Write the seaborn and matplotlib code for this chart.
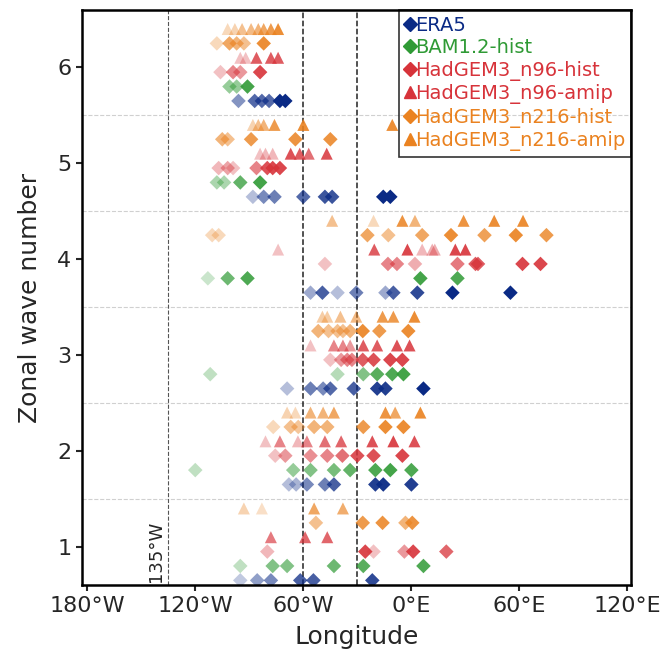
import matplotlib
matplotlib.use("Agg")
from matplotlib import pyplot as plt
from matplotlib.lines import Line2D
import seaborn as sns
import pandas as pd

sns.set_style("ticks")
plt.rcParams['font.family'] = ['DejaVu Sans']

# longitudes (deg, east positive) of each member's peak, per zonal wave number 1..6
ERA5_LON = [[-95, -85.6, -78, -61.7, -54.4, -21.7],
            [-68, -64, -58, -48, -43, -20, -15.6, 0],
            [-69, -56, -49, -45, -32, -19, -14.4, 6.7],
            [-56, -49.4, -41, -30.6, -14.4, -10, 3.3, 22.8, 55],
            [-88, -82, -76, -60, -48, -44, -15.6, -11.7],
            [-96, -87, -83, -79, -73, -70]]
ERA5_ALPHA = [[0.25, 0.45, 0.55, 0.75, 0.75, 0.85],
              [0.3, 0.35, 0.55, 0.6, 0.75, 0.9, 0.95, 0.9],
              [0.3, 0.6, 0.55, 0.7, 0.75, 0.9, 0.9, 1.0],
              [0.4, 0.75, 0.3, 0.6, 0.4, 0.75, 0.85, 1.0, 1.0],
              [0.3, 0.55, 0.6, 0.7, 0.8, 0.8, 1.0, 1.0],
              [0.5, 0.7, 0.7, 0.7, 1.0, 1.0]]

BAM_LON = [[-95, -77, -69, -43, -26.7, 6.7],
           [-120, -65.6, -56, -43, -34, -20, -11.7, 0],
           [-111.7, -41, -26.7, -19, -10.6, -4.4],
           [-113, -102, -91, 5, 25.6],
           [-108, -104, -95, -84],
           [-101, -97, -91]]
BAM_ALPHA = [[0.3, 0.6, 0.6, 0.7, 0.8, 0.85],
             [0.3, 0.5, 0.6, 0.65, 0.75, 0.85, 0.9, 0.85],
             [0.3, 0.35, 0.6, 0.8, 0.85, 0.9],
             [0.25, 0.7, 0.85, 0.9, 0.85],
             [0.4, 0.4, 0.75, 0.9],
             [0.5, 0.5, 0.9]]

N96H_LON = [[-80, -25.6, -21, -3.9, 1, 19.4],
            [-75.6, -70, -56, -46.7, -38.3, -30, -21, -5],
            [-45, -39, -35.6, -33, -27, -21, -11.7, -5],
            [-48, -13, -8, 2, 25.6, 35.6, 37, 61.7, 71.7],
            [-107, -102, -99, -86, -80, -77, -73],
            [-106, -99, -95, -84]]
N96H_ALPHA = [[0.35, 0.9, 0.3, 0.5, 0.9, 0.75],
              [0.3, 0.5, 0.55, 0.6, 0.7, 0.85, 0.85, 0.9],
              [0.3, 0.5, 0.6, 0.6, 0.8, 0.85, 0.9, 0.9],
              [0.3, 0.6, 0.6, 0.4, 0.65, 0.8, 0.8, 0.9, 0.9],
              [0.35, 0.45, 0.3, 0.6, 0.85, 0.9, 0.9],
              [0.3, 0.6, 0.5, 0.9]]

N96A_LON = [[-78, -59, -46.7],
            [-81, -73, -63, -58, -48, -39, -21.7, -10, 1.7],
            [-56, -43, -38, -34, -26.7, -19, -8, -1],
            [-74, -20.6, -2.2, 6, 11.6, 13, 24.4, 30],
            [-84, -81, -77, -67, -62, -57, -47],
            [-95, -92, -86, -78, -74]]
N96A_ALPHA = [[0.65, 0.75, 0.75],
              [0.3, 0.6, 0.35, 0.6, 0.7, 0.75, 0.85, 0.9, 0.85],
              [0.3, 0.6, 0.6, 0.5, 0.8, 0.8, 0.85, 0.85],
              [0.3, 0.8, 0.9, 0.35, 0.4, 0.4, 0.9, 0.9],
              [0.3, 0.35, 0.35, 0.85, 0.8, 0.7, 0.85],
              [0.3, 0.3, 0.8, 0.8, 0.8]]

N216H_LON = [[-53, -27, -16, -3.3, 0.5],
             [-76.7, -67, -62.8, -54, -46.7, -26.7, -14.4, -4.4],
             [-51.7, -46, -41, -38, -34, -27, -17.8, -1.7],
             [-110.6, -107, -24.4, -12.8, 6, 22, 40.6, 58, 75],
             [-105, -102, -89, -64.4, -45],
             [-108, -101, -97, -93, -82]]
N216H_ALPHA = [[0.5, 0.8, 0.85, 0.6, 0.85],
               [0.3, 0.5, 0.45, 0.6, 0.6, 0.8, 0.9, 0.9],
               [0.6, 0.5, 0.5, 0.5, 0.6, 0.9, 0.8, 0.9],
               [0.3, 0.3, 0.7, 0.5, 0.7, 0.9, 0.75, 0.9, 0.8],
               [0.6, 0.5, 0.8, 0.85, 0.85],
               [0.3, 0.7, 0.6, 0.5, 0.9]]

N216A_LON = [[-93, -83, -54, -38],
             [-69, -64.4, -56, -49, -43, -14.4, -9, 5],
             [-49.4, -46.7, -39.4, -30.6, -16, -10, 1.7],
             [-44, -21, -5, 2, 29, 46, 62],
             [-88, -85, -82, -76, -60, -10.6],
             [-102, -98, -94, -89, -85, -82, -78, -74]]
N216A_ALPHA = [[0.35, 0.25, 0.7, 0.65],
               [0.35, 0.3, 0.6, 0.6, 0.7, 0.85, 0.7, 0.9],
               [0.4, 0.4, 0.5, 0.55, 0.8, 0.8, 0.9],
               [0.5, 0.3, 0.85, 0.6, 0.85, 0.9, 0.9],
               [0.35, 0.5, 0.6, 0.8, 0.9, 0.9],
               [0.3, 0.35, 0.5, 0.55, 0.6, 0.7, 0.8, 0.9]]

SERIES = ['ERA5', 'BAM1.2-hist', 'HadGEM3_n96-hist', 'HadGEM3_n96-amip',
          'HadGEM3_n216-hist', 'HadGEM3_n216-amip']
COLORS = ['#0a2a85', '#2f9a35', '#d7333a', '#d7333a', '#ea8220', '#ea8220']
MARKERS = ['D', 'D', 'D', '^', 'D', '^']
OFFSETS = [-0.35, -0.2, -0.05, 0.1, 0.25, 0.4]
LONS = [ERA5_LON, BAM_LON, N96H_LON, N96A_LON, N216H_LON, N216A_LON]
ALPHAS = [ERA5_ALPHA, BAM_ALPHA, N96H_ALPHA, N96A_ALPHA, N216H_ALPHA, N216A_ALPHA]

rows = []
for name, lons, alphas, off in zip(SERIES, LONS, ALPHAS, OFFSETS):
    for k in range(6):
        for lon, a in zip(lons[k], alphas[k]):
            rows.append({'series': name, 'lon': lon, 'wave': k + 1 + off, 'alpha': a})
df = pd.DataFrame(rows)

fig = plt.figure(figsize=(6.65, 6.56), dpi=100)
ax = fig.add_axes([0.123, 0.108, 0.826, 0.877])

for y in [1.5, 2.5, 3.5, 4.5, 5.5]:
    ax.axhline(y, color='#d0d0d0', ls='--', lw=0.8, zorder=0)
ax.axvline(-135, color='#555555', ls='--', lw=0.8, zorder=0)
ax.axvline(-60, color='#222222', ls='--', lw=1.1, zorder=0)
ax.axvline(-30, color='#222222', ls='--', lw=1.1, zorder=0)

for name, col, mk in zip(SERIES, COLORS, MARKERS):
    sub = df[df['series'] == name]
    size = 55 if mk == 'D' else 75
    for a, grp in sub.groupby('alpha'):
        sns.scatterplot(data=grp, x='lon', y='wave', marker=mk, color=col,
                        alpha=a, s=size, edgecolor='none', legend=False, ax=ax)

ax.text(-137, 0.63, '135°W', rotation=90, ha='right', va='bottom', fontsize=13)

ax.set_xlim(-183, 122)
ax.set_ylim(0.6, 6.6)
ax.set_xticks([-180, -120, -60, 0, 60, 120])
ax.set_xticklabels(['180°W', '120°W', '60°W', '0°E', '60°E', '120°E'])
ax.set_yticks([1, 2, 3, 4, 5, 6])
ax.tick_params(labelsize=16, width=1.5, length=4)
ax.set_xlabel('Longitude', fontsize=18, labelpad=7)
ax.set_ylabel('Zonal wave number', fontsize=18, labelpad=11)
for sp in ax.spines.values():
    sp.set_color('black')
    sp.set_linewidth(1.8)

handles = [Line2D([], [], ls='none', marker=mk, color=col, markersize=7 if mk == 'D' else 8)
           for col, mk in zip(COLORS, MARKERS)]
leg = ax.legend(handles, SERIES, loc='upper right', fontsize=14, handlelength=0.5,
                handletextpad=0.0, labelspacing=0.18, borderaxespad=0.0,
                borderpad=0.3, fancybox=False, facecolor='none', edgecolor='black',
                labelcolor=COLORS)
leg.get_frame().set_linewidth(1.2)

fig.savefig('out.png', dpi=100)
